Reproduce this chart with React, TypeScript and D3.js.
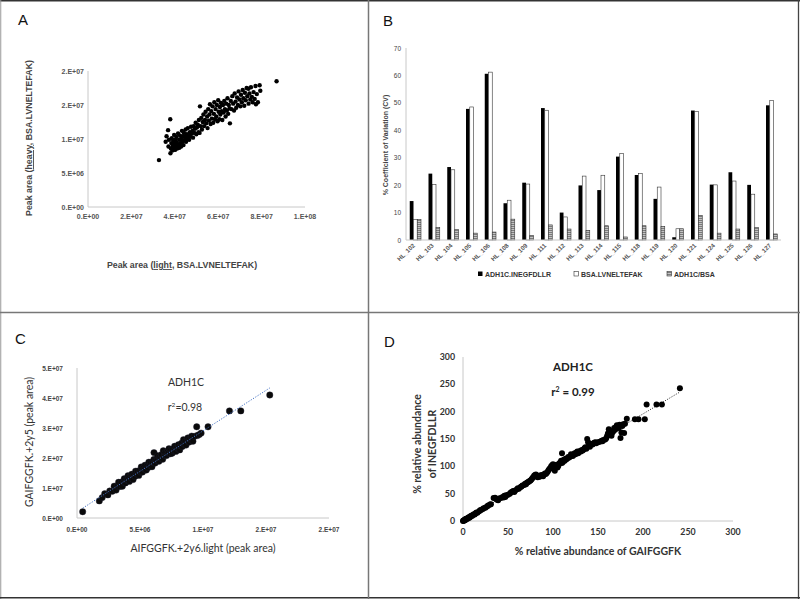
import React from 'react';
import * as d3 from 'd3';

// ---------- Panel B data ----------
const catsB = ['HL_102','HL_103','HL_104','HL_105','HL_106','HL_108','HL_109','HL_111','HL_112','HL_113','HL_114','HL_115','HL_118','HL_119','HL_120','HL_121','HL_124','HL_125','HL_126','HL_127'];
const seriesB = ['ADH1C.INEGFDLLR','BSA.LVNELTEFAK','ADH1C/BSA'];
const adhCV = [14.2,24.2,26.6,47.8,60.6,13.4,20.9,48.1,10.0,19.9,18.2,30.4,23.7,15.0,1.0,47.2,20.2,24.7,20.1,49.1];
const bsaCV = [7.5,20.2,25.6,48.5,61.2,14.5,20.4,47.3,8.4,23.3,23.6,31.6,24.2,19.3,4.1,46.8,20.1,21.5,16.7,50.9];
const ratioCV = [7.5,4.6,3.8,2.5,2.9,7.6,1.7,5.5,4.0,3.5,5.2,1.1,5.2,4.9,4.1,9.0,2.5,4.0,4.5,2.2];
const ticksB = [0,10,20,30,40,50,60,70];

// ---------- Panel A data (values in units of 1e6) ----------
const ptsA: [number, number][] = [
[32.7,6.9],[35.8,9.6],[36.2,10.4],[36.9,11.3],[37.1,8.9],[37.3,9.9],[37.9,12.9],[38.0,7.9],[38.2,8.6],[38.4,9.4],[38.6,10.1],[38.9,8.3],[39.1,9.0],[39.3,9.8],[39.5,8.7],[39.7,10.6],[39.9,9.3],[40.1,8.4],[40.3,9.9],[40.5,8.9],[40.7,10.3],[40.9,9.5],[41.1,8.6],[41.3,9.2],[41.5,10.8],[41.8,9.0],[42.0,9.9],[42.1,8.7],[42.4,10.5],[42.6,9.4],[42.9,8.9],[43.1,10.1],[43.3,11.2],[43.5,9.6],[43.8,10.4],[44.0,9.1],[44.2,10.9],[44.5,9.8],[44.7,10.3],[45.0,11.4],[45.2,9.6],[45.5,10.7],[45.8,10.1],[46.0,11.6],[46.3,10.5],[46.6,9.9],[46.9,11.0],[47.2,10.4],[47.5,11.8],[47.8,10.8],[48.1,11.2],[48.4,10.2],[48.7,11.9],[49.0,10.9],[49.3,11.5],[49.6,12.4],[49.9,10.7],[50.2,11.7],[50.6,12.1],[50.9,11.0],
[51.1,12.8],[51.4,10.9],[51.6,14.8],[51.9,11.9],[52.2,13.1],[52.5,11.4],[52.9,12.5],[53.2,13.6],[53.5,11.9],[53.9,12.8],[54.2,14.0],[54.5,12.3],[54.9,13.3],[55.1,11.6],[55.4,14.4],[55.7,12.7],[56.0,13.6],[56.2,15.1],[56.5,12.2],[56.8,14.1],[57.1,13.0],[57.4,14.8],[57.7,12.4],[58.0,13.7],[58.2,15.4],[58.5,12.9],[58.8,14.4],[59.1,13.3],[59.4,15.0],[59.7,12.6],[60.0,15.7],[60.2,14.0],[60.5,12.9],[60.8,14.7],[61.0,13.6],[61.3,15.3],[61.6,14.1],[61.9,12.8],[62.2,15.0],[62.5,13.9],[62.8,15.6],[63.1,14.4],[63.4,13.3],[63.7,15.2],[64.0,14.2],[64.3,16.0],[64.6,13.7],[64.9,15.0],[65.2,14.5],[65.4,12.3],[65.8,15.6],
[66.1,14.4],[66.5,16.3],[66.9,15.2],[67.3,14.2],[67.6,16.7],[68.0,15.5],[68.3,14.6],[68.7,16.1],[69.1,15.0],[69.4,17.0],[69.8,15.8],[70.2,14.8],[70.5,16.5],[70.9,15.4],[71.3,17.2],[71.6,16.0],[72.0,14.9],[72.3,16.8],[72.7,15.7],[73.1,17.5],[73.4,16.3],[73.9,17.4],[74.0,15.2],[74.4,16.7],[74.8,15.8],[75.1,17.6],[75.5,16.2],[75.9,15.4],[76.3,16.9],[76.8,15.9],[77.2,17.8],[77.4,15.1],[77.8,16.6],[78.3,15.4],[79.1,17.9],[79.4,17.1],[86.9,18.5]
];
const ticksAx = [0, 2e7, 4e7, 6e7, 8e7, 1e8];
const ticksAy = [0, 5e6, 1e7, 1.5e7, 2e7];

// ---------- Panel C data (values in units of 1e6) ----------
const ptsC: [number, number][] = [
[0.45,2.1],[1.77,5.7],[2.0,6.8],[2.2,8.1],[2.45,7.7],[2.6,9.0],[2.8,8.9],[2.95,10.6],[3.1,9.3],[3.2,10.6],[3.3,11.9],[3.4,10.5],[3.5,11.9],[3.6,10.6],[3.7,11.9],[3.75,13.1],[3.85,11.7],[3.9,12.8],[4.0,12.5],[4.05,14.1],[4.15,12.2],[4.2,13.8],[4.3,13.3],[4.35,14.6],[4.45,12.8],[4.5,14.3],[4.6,13.9],[4.65,15.6],[4.75,14.7],[4.8,15.6],[4.9,14.2],[4.95,15.7],[5.05,15.3],[5.1,17.0],[5.2,15.3],[5.25,16.6],[5.35,16.3],[5.4,17.6],[5.5,16.0],[5.55,17.3],[5.65,16.8],[5.7,18.6],[5.8,17.5],[5.85,18.5],[5.95,17.1],[6.0,18.5],[6.1,19.5],[6.11,21.8],[6.2,18.3],[6.25,19.4],[6.35,19.2],[6.4,20.8],[6.5,18.9],[6.55,20.4],[6.65,19.9],[6.7,21.1],[6.8,19.6],[6.85,22.4],[6.95,20.9],[7.0,21.8],[7.1,20.8],[7.15,21.9],[7.25,21.6],[7.3,23.1],[7.4,21.4],[7.45,22.8],[7.55,21.6],[7.6,23.0],[7.7,22.3],[7.75,23.9],[7.85,22.2],[7.9,23.5],[8.0,23.1],[8.05,24.4],[8.15,22.7],[8.2,24.1],[8.3,24.9],[8.35,23.8],[8.45,26.1],[8.5,24.6],[8.6,25.6],[8.65,24.3],[8.75,25.7],[8.8,26.7],[8.9,25.3],[8.95,26.4],[9.05,26.0],[9.1,27.3],[9.2,25.6],[9.3,27.2],[9.5,30.4],[9.55,27.5],[9.7,27.8],[9.85,28.3],[10.4,30.4],[12.1,35.7],[13.0,35.7],[15.3,41.0]
];
const ticksCx = [0, 5e6, 1e7, 1.5e7, 2e7];
const ticksCy = [0, 1e7, 2e7, 3e7, 4e7, 5e7];

// ---------- Panel D data (%) ----------
const ptsD: [number, number][] = [
[0,0],[0.5,1],[1,0.5],[1.5,2],[2,1.5],[2.5,3],[3,2.5],[3.5,4],[4,3.5],[5,5],[5.5,4.5],[6,6.5],[7,6],[7.5,8],[8,7.5],[9,9.5],[10,9],[11,11],[12,12.5],[13,12],[14,14],[15,15.5],[16,15],[18,18],[19,19.5],[20,20],[22,22],[23,23.5],[25,24.5],[27,27],[28,28.5],[30,30],[31,30.5],
[34,42],[35.6,42.5],[37,40],[38,39],[39,38],[40,41],[42,42],[44,44],[45,43],[46,46],[47,44],[48,47],[50,48],[52,50],[53,52],[55,54],[56,55],[57,53],[58,56],[60,58],[61,60],[62,59],[64,62],[65,63],[66,65],[68,66],[69,68],[70,67],[71,70],[72,71],[73,72],[74,73],[75,74],[76,76],[77,78],[78,80],[79,83],[80,84],[81,85],[82,82],[83,80],[84,83],[85,81],[86,82],[87,84],[88,83],[89,82],[90,85],[91,87],[92,86],[93,88],[94,90],[95,93],[96,95],[97,97],[98,100],[99,102],[100,104],[100,98],[101,96],[102,92],[103,100],[104,103],[105,98],[106,101],[107,105],[108,107],[109,110],[110,124],[110,106],[111,108],[112,112],[113,110],[114,114],[115,113],[116,115],[117,117],[118,116],[119,118],[120,122],[121,120],[122,119],[123,121],[124,124],[125,122],[126,125],[127,127],[128,124],[129,126],[130,128],[131,127],[132,130],[133,129],[134,131],[135,133],[136,135],[137,132],[138,150],[139,144],[140,138],[141,136],[142,140],[143,141],[144,140],[145,142],[146,143],[147,144],[148,142],[150,144],[152,145],[154,147],[155,146],[156,148],[158,149],[159,151],[160,155],[161,160],[162,168],[163,165],[164,158],[165,156],[166,162],[167,164],[168,170],[169,167],[170,172],[171,175],[172,174],[173,170],[174,176],[175,152],[176,162],[177,174],[178,177],[179,161],[180,178],[182,187],[191,186],[195,186],[202,186],[204,213],[215,213],[221,213],[241,243]
];
const ticksD = [0, 50, 100, 150, 200, 250, 300];

function fmtE(v: number): string {
  if (v === 0) return '0.E+00';
  const e = Math.floor(Math.log10(v) + 1e-9);
  const m = Math.round(v / Math.pow(10, e));
  return `${m}.E+${String(e).padStart(2, '0')}`;
}

function linreg(pts: [number, number][]) {
  const mx = d3.mean(pts, p => p[0]) as number;
  const my = d3.mean(pts, p => p[1]) as number;
  let sxy = 0, sxx = 0;
  pts.forEach(p => { sxy += (p[0] - mx) * (p[1] - my); sxx += (p[0] - mx) * (p[0] - mx); });
  const b = sxy / sxx;
  return { b, a: my - b * mx };
}

const ARIAL = 'Liberation Sans, Arial, sans-serif';
const CAL = 'Lato, Liberation Sans, sans-serif';
const AXIS = '#c8c8c8';

function PanelA() {
  const x = d3.scaleLinear().domain([0, 1e8]).range([88, 305]);
  const y = d3.scaleLinear().domain([0, 2e7]).range([207, 71]);
  return (
    <g>
      <text x={18} y={25} fontFamily={ARIAL} fontSize={15} fill="#111">A</text>
      <line x1={x(0)} x2={x(0)} y1={y(2e7)} y2={y(0)} stroke={AXIS} strokeWidth={1} />
      <line x1={x(0)} x2={x(1e8)} y1={y(0)} y2={y(0)} stroke={AXIS} strokeWidth={1} />
      {ticksAy.map(t => (
        <text key={t} x={x(0) - 4} y={y(t) + 2.5} textAnchor="end" fontFamily={ARIAL} fontSize={7} fontWeight="bold" fill="#555">{fmtE(t)}</text>
      ))}
      {ticksAx.map(t => (
        <text key={t} x={x(t)} y={y(0) + 12} textAnchor="middle" fontFamily={ARIAL} fontSize={7} fontWeight="bold" fill="#555">{fmtE(t)}</text>
      ))}
      {ptsA.map((p, i) => (
        <circle key={i} cx={x(p[0] * 1e6)} cy={y(p[1] * 1e6)} r={2.2} fill="#000" />
      ))}
      <text x={182} y={268} textAnchor="middle" fontFamily={ARIAL} fontSize={8.8} fontWeight="bold" fill="#444">
        Peak area (<tspan style={{ textDecoration: 'underline' }}>light</tspan>, BSA.LVNELTEFAK)
      </text>
      <text transform="translate(32,138) rotate(-90)" textAnchor="middle" fontFamily={ARIAL} fontSize={8.8} fontWeight="bold" fill="#444">
        Peak area (<tspan style={{ textDecoration: 'underline' }}>heavy</tspan>, BSA.LVNELTEFAK)
      </text>
    </g>
  );
}

function PanelB() {
  const x0 = d3.scaleBand<string>().domain(catsB).range([406, 781]).paddingInner(0.4).paddingOuter(0.2);
  const x1 = d3.scaleBand<string>().domain(seriesB).range([0, x0.bandwidth()]);
  const y = d3.scaleLinear().domain([0, 70]).range([240, 48]);
  const vals = [adhCV, bsaCV, ratioCV];
  const fills = ['#000', '#fff', 'url(#hatch)'];
  const legendX = [478, 574, 667];
  return (
    <g>
      <defs>
        <pattern id="hatch" width="3" height="2" patternUnits="userSpaceOnUse">
          <rect width="3" height="2" fill="#c4c4c4" />
          <rect width="3" height="0.8" fill="#6a6a6a" />
        </pattern>
      </defs>
      <text x={383} y={26} fontFamily={ARIAL} fontSize={15} fill="#111">B</text>
      <line x1={406} x2={406} y1={y(70)} y2={y(0)} stroke={AXIS} strokeWidth={1} />
      {ticksB.map(t => (
        <text key={t} x={401} y={y(t) + 2.5} textAnchor="end" fontFamily={ARIAL} fontSize={6.5} fill="#444">{t}</text>
      ))}
      {catsB.map((c, i) => (
        <g key={c}>
          {seriesB.map((s, j) => (
            <rect key={s} x={(x0(c) as number) + (x1(s) as number)} y={y(vals[j][i])} width={x1.bandwidth()} height={y(0) - y(vals[j][i])}
              fill={fills[j]} stroke={j === 0 ? 'none' : '#333'} strokeWidth={0.6} />
          ))}
        </g>
      ))}
      <line x1={406} x2={781} y1={y(0)} y2={y(0)} stroke={AXIS} strokeWidth={1} />
      {catsB.map(c => {
        const cx = (x0(c) as number) + x0.bandwidth() / 2;
        return (
          <text key={c} transform={`translate(${cx},${246}) rotate(-45)`} textAnchor="end" fontFamily={ARIAL} fontSize={6.2} fontWeight="bold" fill="#555">{c}</text>
        );
      })}
      <text transform="translate(388,145) rotate(-90)" textAnchor="middle" fontFamily={ARIAL} fontSize={7} fontWeight="bold" fill="#444">% Coefficient of Variation (CV)</text>
      {seriesB.map((s, j) => (
        <g key={s}>
          <rect x={legendX[j]} y={271.5} width={4.5} height={4.5} fill={fills[j]} stroke={j === 0 ? 'none' : '#333'} strokeWidth={0.6} />
          <text x={legendX[j] + 7} y={277} fontFamily={ARIAL} fontSize={7} fontWeight="bold" fill="#333">{s}</text>
        </g>
      ))}
    </g>
  );
}

function PanelC() {
  const x = d3.scaleLinear().domain([0, 2e7]).range([77, 329]);
  const y = d3.scaleLinear().domain([0, 5e7]).range([518, 368]);
  const pts = ptsC.map(p => [p[0] * 1e6, p[1] * 1e6] as [number, number]);
  const r = linreg(pts);
  const xmin = d3.min(pts, p => p[0]) as number;
  const xmax = d3.max(pts, p => p[0]) as number;
  return (
    <g>
      <text x={15} y={344} fontFamily={ARIAL} fontSize={15} fill="#111">C</text>
      <line x1={x(0)} x2={x(0)} y1={y(5e7)} y2={y(0)} stroke={AXIS} strokeWidth={1} />
      <line x1={x(0)} x2={x(2e7)} y1={y(0)} y2={y(0)} stroke={AXIS} strokeWidth={1} />
      {ticksCy.map(t => (
        <text key={t} x={x(0) - 14} y={y(t) + 2.5} textAnchor="end" fontFamily={ARIAL} fontSize={6.5} fontWeight="bold" fill="#444">{fmtE(t)}</text>
      ))}
      {ticksCx.map(t => (
        <text key={t} x={x(t)} y={y(0) + 14} textAnchor="middle" fontFamily={ARIAL} fontSize={6.5} fontWeight="bold" fill="#444">{fmtE(t)}</text>
      ))}
      {pts.map((p, i) => (
        <circle key={i} cx={x(p[0])} cy={y(p[1])} r={3.2} fill="#0a0a0a" stroke="#223" strokeWidth={0.4} />
      ))}
      <line x1={x(xmin)} y1={y(r.a + r.b * xmin)} x2={x(xmax)} y2={y(r.a + r.b * xmax)} stroke="#4472C4" strokeWidth={1} strokeDasharray="1.2,1.5" />
      <text x={186} y={386} textAnchor="middle" fontFamily={CAL} fontSize={10.5} fill="#333">ADH1C</text>
      <text x={185} y={411} textAnchor="middle" fontFamily={CAL} fontSize={10.5} fill="#333">r<tspan dy={-4} fontSize={6.5}>2</tspan><tspan dy={4}>=0.98</tspan></text>
      <text x={203} y={552} textAnchor="middle" fontFamily={CAL} fontSize={10.5} fill="#333">AIFGGFK.+2y6.light (peak area)</text>
      <text transform="translate(33,442) rotate(-90)" textAnchor="middle" fontFamily={CAL} fontSize={10.5} fill="#333">GAIFGGFK.+2y5 (peak area)</text>
    </g>
  );
}

function PanelD() {
  const x = d3.scaleLinear().domain([0, 300]).range([463, 733]);
  const y = d3.scaleLinear().domain([0, 300]).range([521, 357]);
  const r = linreg(ptsD);
  const xmin = d3.min(ptsD, p => p[0]) as number;
  const xmax = d3.max(ptsD, p => p[0]) as number;
  return (
    <g>
      <text x={384} y={347} fontFamily={ARIAL} fontSize={15} fill="#111">D</text>
      <line x1={x(0)} x2={x(0)} y1={y(300)} y2={y(0)} stroke={AXIS} strokeWidth={1} />
      <line x1={x(0)} x2={x(300)} y1={y(0)} y2={y(0)} stroke={AXIS} strokeWidth={1} />
      {ticksD.map(t => (
        <text key={'y' + t} x={x(0) - 8} y={y(t) + 3} textAnchor="end" fontFamily={CAL} fontSize={8.8} fontWeight="bold" fill="#333">{t}</text>
      ))}
      {ticksD.map(t => (
        <text key={'x' + t} x={x(t)} y={y(0) + 14} textAnchor="middle" fontFamily={CAL} fontSize={8.8} fontWeight="bold" fill="#333">{t}</text>
      ))}
      <line x1={x(xmin)} y1={y(r.a + r.b * xmin)} x2={x(xmax)} y2={y(r.a + r.b * xmax)} stroke="#222" strokeWidth={1} strokeDasharray="1,1.5" />
      {ptsD.map((p, i) => (
        <circle key={i} cx={x(p[0])} cy={y(p[1])} r={3} fill="#000" />
      ))}
      <text x={573} y={371} textAnchor="middle" fontFamily={CAL} fontSize={11.5} fontWeight="bold" fill="#222">ADH1C</text>
      <text x={573} y={396} textAnchor="middle" fontFamily={CAL} fontSize={11.5} fontWeight="bold" fill="#222">r<tspan dy={-4} fontSize={7}>2</tspan><tspan dy={4}> = 0.99</tspan></text>
      <text x={598} y={555} textAnchor="middle" fontFamily={CAL} fontSize={10.5} fontWeight="bold" fill="#333">% relative abundance  of GAIFGGFK</text>
      <text transform="translate(421,444) rotate(-90)" textAnchor="middle" fontFamily={CAL} fontSize={10.5} fontWeight="bold" fill="#333">% relative abundance</text>
      <text transform="translate(436,444) rotate(-90)" textAnchor="middle" fontFamily={CAL} fontSize={10.5} fontWeight="bold" fill="#333">of INEGFDLLR</text>
    </g>
  );
}

export default function App() {
  return (
    <svg width={800} height={599} style={{ position: 'absolute', left: 0, top: 0, background: '#fff' }}>
      <rect width={800} height={599} fill="#fff" />
      <PanelA />
      <PanelB />
      <PanelC />
      <PanelD />
      <line x1={0} x2={800} y1={0.75} y2={0.75} stroke="#333" strokeWidth={1.5} />
      <line x1={0.75} x2={0.75} y1={0} y2={599} stroke="#999" strokeWidth={1} />
      <line x1={798.5} x2={798.5} y1={0} y2={599} stroke="#444" strokeWidth={1.3} />
      <line x1={0} x2={800} y1={597.8} y2={597.8} stroke="#333" strokeWidth={1.5} />
      <line x1={368.5} x2={368.5} y1={0} y2={599} stroke="#777" strokeWidth={1.5} />
      <line x1={0} x2={800} y1={312.5} y2={312.5} stroke="#777" strokeWidth={1.5} />
    </svg>
  );
}
